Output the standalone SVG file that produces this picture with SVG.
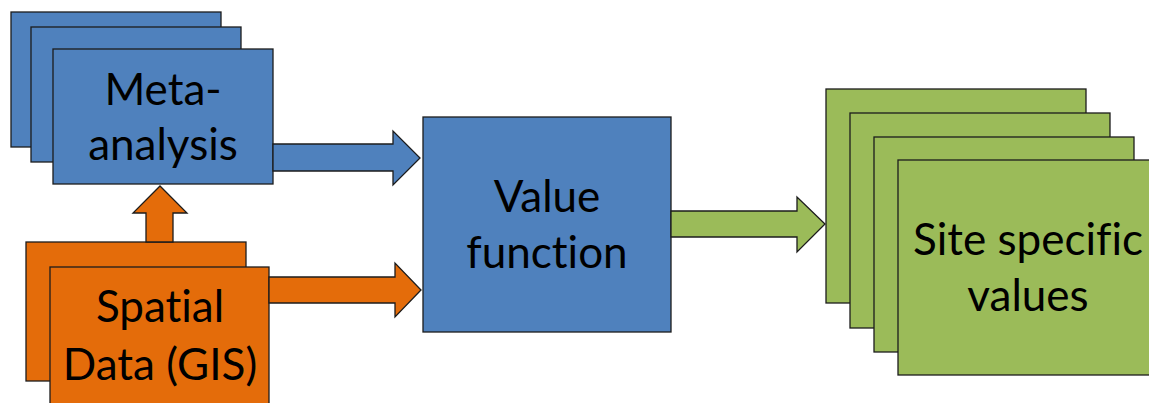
<svg xmlns="http://www.w3.org/2000/svg" width="1149" height="403" viewBox="0 0 1149 403">
<style>
.s{stroke:#1c1c1c;stroke-width:1.3}
.b{fill:#4F81BD}
.o{fill:#E46C0A}
.g{fill:#9BBB59}
.t{font-family:Lato,"Open Sans","Liberation Sans",sans-serif;font-size:44px;fill:#000;text-anchor:middle;font-variant-ligatures:none;font-feature-settings:"liga" 0,"clig" 0}
</style>
<rect width="1149" height="403" fill="#fff"/>
<g id="meta-analysis">
<rect class="b s" x="11" y="12" width="210" height="135"/>
<rect class="b s" x="31" y="27" width="210" height="135"/>
<rect class="b s" x="53" y="49" width="220" height="135"/>
<text class="t" x="163" y="105">Meta-</text>
<text class="t" x="163" y="160">analysis</text>
</g>
<g id="spatial-data">
<rect class="o s" x="26" y="242" width="220" height="139"/>
<rect class="o s" x="50" y="267" width="219" height="140"/>
<text class="t" x="160" y="322">Spatial</text>
<text class="t" x="160" y="380">Data (GIS)</text>
</g>
<g id="value-function">
<rect class="b s" x="423" y="117" width="248" height="215"/>
<text class="t" x="547" y="212">Value</text>
<text class="t" x="547" y="268">function</text>
</g>
<g id="site-specific-values">
<rect class="g s" x="826" y="89" width="260" height="214"/>
<rect class="g s" x="850" y="113" width="260" height="215"/>
<rect class="g s" x="874" y="137" width="260" height="215"/>
<rect class="g s" x="898" y="160" width="260" height="215"/>
<text class="t" x="1028" y="255">Site specific</text>
<text class="t" x="1028" y="311">values</text>
</g>
<g id="connectors">
<polygon class="b s" points="273,144 393,144 393,131 420,158 393,185 393,171 273,171"/>
<polygon class="o s" points="146,242 146,213 133,213 160,186 187,213 173,213 173,242"/>
<polygon class="o s" points="269,277 395,277 395,263 421,290 395,317 395,303 269,303"/>
<polygon class="g s" points="671,211 797,211 797,197 825,224 797,252 797,237 671,237"/>
</g>
</svg>
